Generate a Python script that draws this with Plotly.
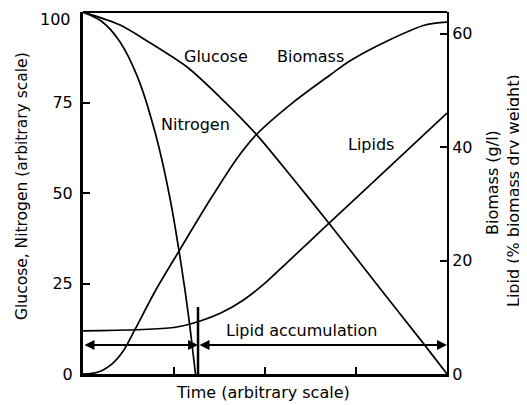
import plotly.graph_objects as go

# ---- data ----
glucose_t = [0, 0.102, 0.184, 0.286, 0.376, 0.478, 0.575, 0.673, 0.80, 0.934, 1.0]
glucose = [100, 96.4, 91.5, 84.8, 76.5, 66.0, 54.2, 42.0, 25.7, 8.6, 0]

nitrogen_t = [0, 0.05, 0.10, 0.15, 0.20, 0.24, 0.27, 0.29, 0.309]
nitrogen = [100, 97.5, 92, 82, 66, 48, 30, 16, 0]

biomass_t = [0, 0.04, 0.08, 0.11, 0.14, 0.2, 0.266, 0.349, 0.423, 0.478, 0.58, 0.679, 0.734, 0.843, 0.94, 1.0]
biomass = [0, 0.3, 1.8, 4.0, 7.5, 14.8, 21.9, 30.7, 38.0, 42.3, 48.0, 52.7, 55.2, 58.9, 61.5, 62.0]

lipid_t = [0, 0.25, 0.32, 0.38, 0.44, 0.50, 0.56, 0.673, 0.80, 1.0]
lipid = [7.6, 8.2, 9.3, 10.8, 13.0, 16.0, 19.6, 26.4, 34.0, 46.0]

left_ticks = [0, 25, 50, 75, 100]
right_ticks = [0, 20, 40, 60]
time_ticks = [0.25, 0.5, 0.75]

n_depletion = 0.316
arrow_level = 8.0
marker_top = 18.5

FONT = "DejaVu Sans"
FS = 16

# page has an 8px body margin: compensate
OFF = 8
W, H = 527 - OFF, 405 - OFF
L, R, T, B = 83 - OFF, 80, 12 - OFF, 31
pw, ph = W - L - R, H - T - B

fig = go.Figure()
line = dict(color="black", width=1.7, shape="spline", smoothing=0.8)
fig.add_trace(go.Scatter(x=glucose_t, y=glucose, mode="lines", line=line, yaxis="y", hoverinfo="skip"))
fig.add_trace(go.Scatter(x=nitrogen_t, y=nitrogen, mode="lines", line=line, yaxis="y", hoverinfo="skip"))
fig.add_trace(go.Scatter(x=biomass_t, y=biomass, mode="lines", line=line, yaxis="y2", hoverinfo="skip"))
fig.add_trace(go.Scatter(x=lipid_t, y=lipid, mode="lines", line=line, yaxis="y2", hoverinfo="skip"))

anns = []
def lab(text, x, y):
    anns.append(dict(text=text, x=x, y=y, xref="x", yref="y", showarrow=False,
                     font=dict(family=FONT, size=FS, color="black")))
lab("Glucose", 0.365, 87.6)
lab("Biomass", 0.626, 87.6)
lab("Nitrogen", 0.308, 68.8)
lab("Lipids", 0.791, 63.3)
lab("Lipid accumulation", 0.599, 11.9)

for (a, b) in [(0, n_depletion), (n_depletion, 1.0)]:
    anns.append(dict(x=b, y=arrow_level, ax=a, ay=arrow_level, xref="x", yref="y",
                     axref="x", ayref="y", text="", showarrow=True, arrowhead=2,
                     arrowside="end+start", arrowsize=1, arrowwidth=2, arrowcolor="black"))

def title(text, px, py, angle, size, xanchor="center"):
    # px, py are window pixel positions of the text anchor
    anns.append(dict(text=text, xref="paper", yref="paper",
                     x=(px - OFF - L) / pw, y=(H - B - (py - OFF)) / ph,
                     xanchor=xanchor, yanchor="middle", showarrow=False, textangle=angle,
                     font=dict(family=FONT, size=size, color="black")))

title("Glucose, Nitrogen (arbitrary scale)", 22, 186, -90, 15.5)
title("Time (arbitrary scale)", 263, 392, 0, FS)
title("Biomass (g/l)", 493, 183, -90, FS)
title("Lipid (% biomass dry weight)", 513, 191, -90, FS)
# top tick label sits just below the frame in the reference
title(str(left_ticks[-1]), 73, 19, 0, FS, xanchor="right")

fig.update_layout(
    width=W, height=H, margin=dict(l=L, r=R, t=T, b=B, autoexpand=False),
    paper_bgcolor="white", plot_bgcolor="white", showlegend=False,
    font=dict(family=FONT, size=FS, color="black"),
    xaxis=dict(range=[0, 1], automargin=False, showgrid=False, zeroline=False, showline=True,
               linecolor="black", linewidth=3, ticks="inside", ticklen=7, tickwidth=1.5,
               tickcolor="black", tickvals=time_ticks, showticklabels=False),
    yaxis=dict(range=[0, 100], automargin=False, showgrid=False, zeroline=False, showline=True,
               linecolor="black", linewidth=3, ticks="inside", ticklen=7, tickwidth=1.5,
               tickcolor="black", tickvals=left_ticks[:-1], ticklabelstandoff=4,
               ticklabeloverflow="allow",
               tickfont=dict(family=FONT, size=FS, color="black")),
    yaxis2=dict(range=[0, 63.8], automargin=False, overlaying="y", side="right", showgrid=False,
                zeroline=False, showline=True, linecolor="black", linewidth=2, ticks="inside",
                ticklen=7, tickwidth=1.5, tickcolor="black", tickvals=right_ticks,
                ticklabeloverflow="allow",
                tickfont=dict(family=FONT, size=FS, color="black")),
    annotations=anns,
    shapes=[
        dict(type="line", xref="paper", yref="paper", x0=0, x1=1, y0=1, y1=1,
             line=dict(color="black", width=2)),
        dict(type="line", xref="x", yref="y", x0=n_depletion, x1=n_depletion, y0=0, y1=marker_top,
             line=dict(color="black", width=2.5)),
    ],
)

fig.write_html("out.html")
